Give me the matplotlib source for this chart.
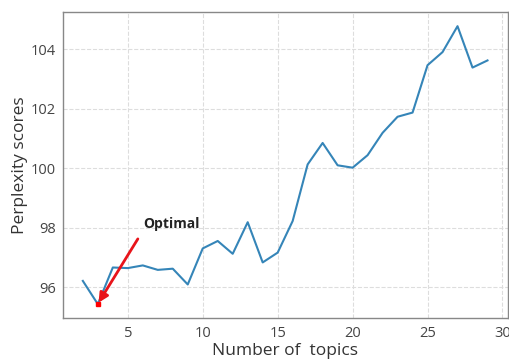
import matplotlib
matplotlib.use('Agg')
import matplotlib.pyplot as plt

# perplexity per number of topics
topics = list(range(2, 30))
perplexity = [96.22, 95.44, 96.67, 96.65, 96.74, 96.59, 96.63, 96.10,
              97.31, 97.56, 97.13, 98.19, 96.84, 97.17, 98.23, 100.13,
              100.85, 100.10, 100.02, 100.44, 101.19, 101.73, 101.87,
              103.46, 103.90, 104.77, 103.38, 103.62]
optimal_k = 3
optimal_score = 95.44

plt.rcParams['font.family'] = ['Open Sans', 'DejaVu Sans']

fig = plt.figure(figsize=(5.09, 3.61), dpi=100)
ax = fig.add_axes([0.123, 0.119, 0.8745, 0.847])

ax.plot(topics, perplexity, color='#3585b8', linewidth=1.5)
ax.plot([optimal_k], [optimal_score], 's', color='red', markersize=2.5)

# arrow and label drawn separately: the tail sits below-left of the text
ax.annotate('', xy=(optimal_k + 0.05, optimal_score + 0.05),
            xytext=(5.67, 97.63),
            arrowprops=dict(arrowstyle='-|>', color='#e8141a', lw=2,
                            mutation_scale=14, shrinkA=0, shrinkB=0))
ax.text(6.0, 97.9, 'Optimal', fontsize=10, fontweight='bold',
        color='#222222', ha='left', va='bottom')

ax.set_xlabel('Number of  topics', fontsize=12.5, color='#333333', labelpad=1)
ax.set_ylabel('Perplexity scores', fontsize=12.5, color='#333333', labelpad=2)

ax.set_xticks([5, 10, 15, 20, 25, 30])
ax.set_yticks([96, 98, 100, 102, 104])
ax.tick_params(axis='x', length=0, labelsize=10.5, labelcolor='#444444', pad=6)
ax.tick_params(axis='y', length=0, labelsize=10.5, labelcolor='#444444', pad=5)
ax.grid(True, linestyle='--', color='#dddddd', linewidth=0.8)

for s in ax.spines.values():
    s.set_color('#888888')
    s.set_linewidth(1.0)

fig.savefig('out.png', dpi=100)
